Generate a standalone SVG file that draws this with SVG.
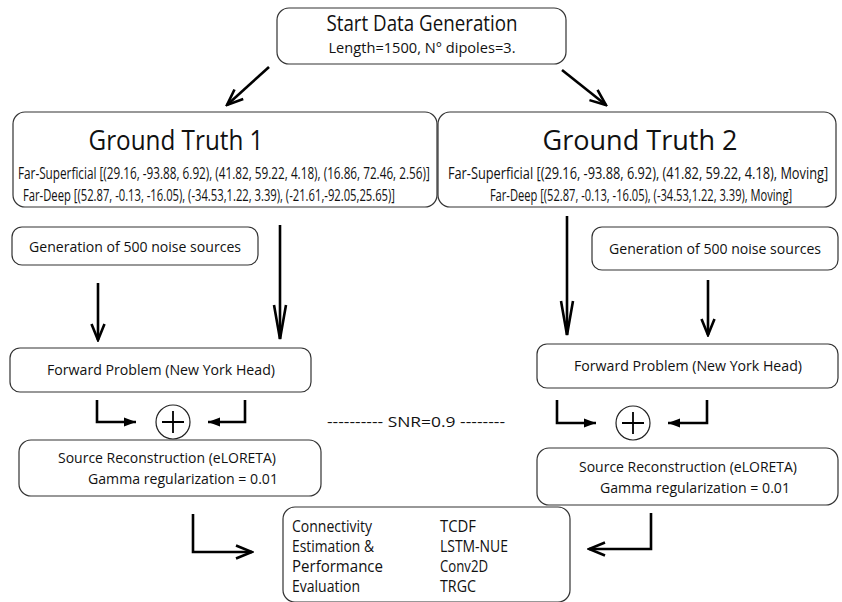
<svg xmlns="http://www.w3.org/2000/svg" width="842" height="602" viewBox="0 0 842 602">
<style>
.box{fill:#fff;stroke:#333;stroke-width:1.2}
.t{font-family:"Open Sans","Liberation Sans",sans-serif;fill:#111}
.c{stroke:#000;stroke-width:2.6;fill:none}
.pc{fill:#fff;stroke:#222;stroke-width:1.2}
.pl{stroke:#000;stroke-width:1.8}
</style>
<defs>
<marker id="v" viewBox="-18 -8 20 16" refX="0" refY="0" markerWidth="20" markerHeight="16" markerUnits="userSpaceOnUse" orient="auto">
<path d="M-16,-6.5 L0,0 L-16,6.5" fill="none" stroke="#000" stroke-width="2.6"/>
</marker>
<marker id="vl" viewBox="-38 -8 40 16" refX="0" refY="0" markerWidth="40" markerHeight="16" markerUnits="userSpaceOnUse" orient="auto">
<path d="M-34,-6 L0,0 L-34,6" fill="none" stroke="#000" stroke-width="2.6"/>
</marker>
<marker id="tri" viewBox="-14 -6 16 12" refX="0" refY="0" markerWidth="16" markerHeight="12" markerUnits="userSpaceOnUse" orient="auto">
<path d="M-12,-4.5 L0,0 L-12,4.5 Z" fill="#000"/>
</marker>
</defs>
<rect width="842" height="602" fill="#fff"/>

<g id="start">
<rect class="box" x="277" y="8" width="289" height="56" rx="12"/>
<text class="t" x="422" y="31" font-size="21" text-anchor="middle" textLength="191" lengthAdjust="spacingAndGlyphs">Start Data Generation</text>
<text class="t" x="422" y="53" font-size="15" text-anchor="middle" textLength="187" lengthAdjust="spacingAndGlyphs">Length=1500, N° dipoles=3.</text>
</g>

<g id="gt1">
<rect class="box" x="13" y="112" width="424" height="95" rx="12"/>
<text class="t" x="176" y="150" font-size="28" text-anchor="middle" textLength="175" lengthAdjust="spacingAndGlyphs">Ground Truth 1</text>
<text class="t" transform="translate(18,179) scale(0.75,1)" x="0" y="0" font-size="16" textLength="549" lengthAdjust="spacingAndGlyphs">Far-Superficial [(29.16, -93.88, 6.92), (41.82, 59.22, 4.18), (16.86, 72.46, 2.56)]</text>
<text class="t" transform="translate(23,201) scale(0.75,1)" x="0" y="0" font-size="16" textLength="496" lengthAdjust="spacingAndGlyphs">Far-Deep  [(52.87, -0.13, -16.05), (-34.53,1.22, 3.39), (-21.61,-92.05,25.65)]</text>
</g>

<g id="gt2">
<rect class="box" x="438" y="112" width="398" height="95" rx="12"/>
<text class="t" x="640" y="150" font-size="28" text-anchor="middle" textLength="195" lengthAdjust="spacingAndGlyphs">Ground Truth 2</text>
<text class="t" transform="translate(638,179) scale(0.75,1)" x="0" y="0" font-size="16" text-anchor="middle" textLength="507" lengthAdjust="spacingAndGlyphs">Far-Superficial [(29.16, -93.88, 6.92), (41.82, 59.22, 4.18), Moving]</text>
<text class="t" transform="translate(641,201) scale(0.75,1)" x="0" y="0" font-size="16" text-anchor="middle" textLength="403" lengthAdjust="spacingAndGlyphs">Far-Deep [(52.87, -0.13, -16.05), (-34.53,1.22, 3.39), Moving]</text>
</g>

<g id="noise1">
<rect class="box" x="12" y="227" width="246" height="38" rx="10"/>
<text class="t" x="135" y="252" font-size="15" text-anchor="middle" textLength="212" lengthAdjust="spacingAndGlyphs">Generation of 500 noise sources</text>
</g>

<g id="noise2">
<rect class="box" x="592" y="227" width="246" height="43" rx="10"/>
<text class="t" x="715" y="254" font-size="15" text-anchor="middle" textLength="212" lengthAdjust="spacingAndGlyphs">Generation of 500 noise sources</text>
</g>

<g id="fwd1">
<rect class="box" x="10" y="348" width="301" height="44" rx="10"/>
<text class="t" x="161" y="375" font-size="15" text-anchor="middle" textLength="228" lengthAdjust="spacingAndGlyphs">Forward Problem (New York Head)</text>
</g>

<g id="fwd2">
<rect class="box" x="537" y="344" width="301" height="44" rx="10"/>
<text class="t" x="688" y="371" font-size="15" text-anchor="middle" textLength="228" lengthAdjust="spacingAndGlyphs">Forward Problem (New York Head)</text>
</g>

<g id="plus1">
<circle class="pc" cx="173" cy="422" r="17"/>
<path class="pl" d="M162,422 H184 M173,411 V433"/>
</g>

<g id="plus2">
<circle class="pc" cx="633" cy="423" r="17"/>
<path class="pl" d="M622,423 H644 M633,412 V434"/>
</g>

<g id="snr">
<text class="t" x="416" y="427" font-size="15" text-anchor="middle" textLength="178" lengthAdjust="spacingAndGlyphs">---------- SNR=0.9 --------</text>
</g>

<g id="src1">
<rect class="box" x="19" y="440" width="302" height="56" rx="12"/>
<text class="t" x="167" y="463" font-size="15" text-anchor="middle" textLength="218" lengthAdjust="spacingAndGlyphs">Source Reconstruction (eLORETA)</text>
<text class="t" x="183" y="484" font-size="15" text-anchor="middle" textLength="190" lengthAdjust="spacingAndGlyphs">Gamma regularization = 0.01</text>
</g>

<g id="src2">
<rect class="box" x="537" y="448" width="301" height="57" rx="12"/>
<text class="t" x="688" y="472" font-size="15" text-anchor="middle" textLength="218" lengthAdjust="spacingAndGlyphs">Source Reconstruction (eLORETA)</text>
<text class="t" x="695" y="493" font-size="15" text-anchor="middle" textLength="190" lengthAdjust="spacingAndGlyphs">Gamma regularization = 0.01</text>
</g>

<g id="eval">
<rect class="box" x="283" y="507" width="287" height="95" rx="12"/>
<text class="t" x="292" y="532" font-size="16" textLength="80" lengthAdjust="spacingAndGlyphs">Connectivity</text>
<text class="t" x="292" y="552" font-size="16" textLength="82" lengthAdjust="spacingAndGlyphs">Estimation &amp;</text>
<text class="t" x="292" y="572" font-size="16" textLength="91" lengthAdjust="spacingAndGlyphs">Performance</text>
<text class="t" x="292" y="592" font-size="16" textLength="68" lengthAdjust="spacingAndGlyphs">Evaluation</text>
<text class="t" x="440" y="532" font-size="16" textLength="36" lengthAdjust="spacingAndGlyphs">TCDF</text>
<text class="t" x="440" y="552" font-size="16" textLength="68" lengthAdjust="spacingAndGlyphs">LSTM-NUE</text>
<text class="t" x="440" y="572" font-size="16" textLength="48" lengthAdjust="spacingAndGlyphs">Conv2D</text>
<text class="t" x="440" y="592" font-size="16" textLength="36" lengthAdjust="spacingAndGlyphs">TRGC</text>
</g>

<g id="connectors">
<path class="c" d="M269,67 L227,105" marker-end="url(#v)"/>
<path class="c" d="M562,70 L606,105" marker-end="url(#v)"/>
<path class="c" d="M98,283 V340" marker-end="url(#v)"/>
<path class="c" d="M280,225 V339" marker-end="url(#vl)"/>
<path class="c" d="M567,216 V335" marker-end="url(#vl)"/>
<path class="c" d="M708,280 V335" marker-end="url(#v)"/>
<path class="c" d="M97,400 V422 H136" marker-end="url(#tri)"/>
<path class="c" d="M245,400 V422 H208" marker-end="url(#tri)"/>
<path class="c" d="M557,400 V423 H596" marker-end="url(#tri)"/>
<path class="c" d="M707,400 V423 H668" marker-end="url(#tri)"/>
<path class="c" d="M193,514 V552 H252" marker-end="url(#v)"/>
<path class="c" d="M651,513 V549 H589" marker-end="url(#v)"/>
</g>
</svg>
